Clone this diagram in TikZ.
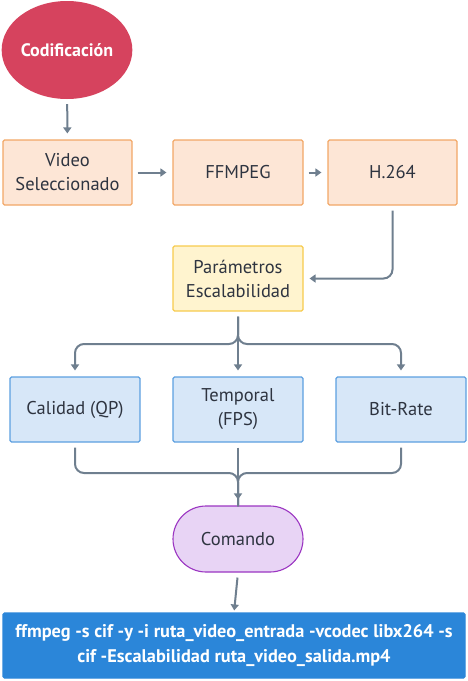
\documentclass[tikz,border=0pt]{standalone}
\usepackage{fontspec}
\setmainfont{PT Sans}
\usetikzlibrary{shapes.geometric,arrows.meta}
\definecolor{redc}{HTML}{D6435E}
\definecolor{orfill}{HTML}{FDE6D6}
\definecolor{ordraw}{HTML}{F2A766}
\definecolor{yefill}{HTML}{FFF4CF}
\definecolor{yedraw}{HTML}{F7CB4D}
\definecolor{blfill}{HTML}{D7E7F8}
\definecolor{bldraw}{HTML}{5C9FE0}
\definecolor{pufill}{HTML}{E8D4F5}
\definecolor{pudraw}{HTML}{9B35C2}
\definecolor{cmdfill}{HTML}{2B86D9}
\definecolor{arr}{HTML}{6F7F8F}
\definecolor{txt}{HTML}{2E3440}
\begin{document}
\begin{tikzpicture}[x=1pt,y=-1pt,
  box/.style={draw, line width=1.1pt, rounded corners=1.5pt, minimum width=130pt, minimum height=65pt,
    align=center, text=txt, font=\fontsize{18.5}{24}\selectfont, inner sep=0pt},
  orbox/.style={box, fill=orfill, draw=ordraw},
  yebox/.style={box, fill=yefill, draw=yedraw},
  blbox/.style={box, fill=blfill, draw=bldraw},
  conn/.style={draw=arr, line width=2pt, -{Triangle[length=6pt,width=8pt]}, shorten <=5pt, shorten >=6pt, rounded corners=9pt},
  line/.style={draw=arr, line width=2pt, shorten <=5pt, rounded corners=9pt}
]
\useasboundingbox (0,0) rectangle (468,681);
\node[ellipse, fill=redc, minimum width=114pt, minimum height=98pt, inner sep=0pt, text=white,
  font=\fontsize{18}{22}\selectfont\bfseries] (cod) at (67,50) {Codificación};
\node[orbox, minimum width=129pt] (video) at (67.5,172.5) {Video\\Seleccionado};
\node[orbox] (ffm) at (238,172.5) {FFMPEG};
\node[orbox, minimum width=129pt] (h264) at (392.5,172.5) {H.264};
\node[yebox] (param) at (238,278.5) {Parámetros\\Escalabilidad};
\node[blbox] (cal) at (75,409.5) {Calidad (QP)};
\node[blbox] (temp) at (238,409.5) {Temporal\\(FPS)};
\node[blbox] (bit) at (401,409.5) {Bit-Rate};
\node[box, fill=pufill, draw=pudraw, rounded corners=33pt, minimum height=66pt] (com) at (238,539) {Comando};
\node[box, fill=cmdfill, draw=cmdfill, minimum width=462pt, text=white,
  font=\fontsize{18.3}{25}\selectfont\bfseries] (cmd) at (234,645.5)
  {ffmpeg -s cif -y -i ruta\_video\_entrada -vcodec libx264 -s\\cif -Escalabilidad ruta\_video\_salida.mp4};
\coordinate (j1) at (238,344);
\coordinate (j2) at (238,473);
\path[conn] (cod) -- (video);
\path[conn] (video) -- (ffm);
\path[conn] (ffm) -- (h264);
\path[conn] (h264.south) |- (param.east);
\path[conn] (param.south) -- (j1) -| (cal.north);
\path[conn] (param.south) -- (temp.north);
\path[conn] (param.south) -- (j1) -| (bit.north);
\path[line] (cal.south) |- (j2) -- ([yshift=-1pt]j2 |- com.north);
\path[line] (bit.south) |- (j2) -- ([yshift=-1pt]j2 |- com.north);
\path[conn] (temp.south) -- (com.north);
\path[conn, shorten >=2pt] (com.south) -- (cmd.north);
\end{tikzpicture}
\end{document}
